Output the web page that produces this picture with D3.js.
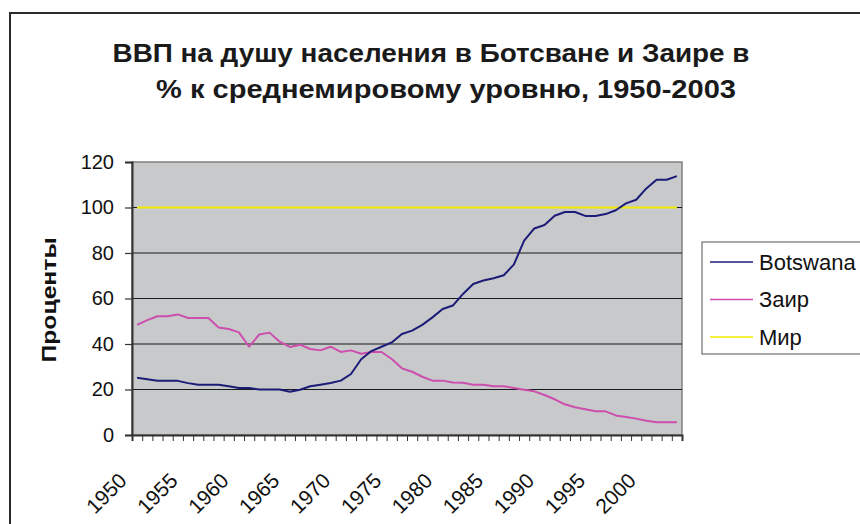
<!DOCTYPE html>
<html>
<head>
<meta charset="utf-8">
<script src="https://cdn.jsdelivr.net/npm/d3@7"></script>
<style>
  body { margin: 0; background: #fff; }
  svg { font-family: "Liberation Sans", Arial, sans-serif; display: block; }
</style>
</head>
<body>
<div id="chart"></div>
<script>
// categories and series
var years = d3.range(1950, 2004);
var tickLabels = ["1950", "1955", "1960", "1965", "1970", "1975", "1980", "1985", "1990", "1995", "2000"];

var botswana = [25.2, 24.5, 23.8, 23.8, 23.8, 22.8, 22.1, 22.1, 22.1, 21.4,
                20.7, 20.7, 20.0, 20.0, 20.0, 19.0, 19.9, 21.4, 22.1, 22.9,
                23.9, 26.8, 33.3, 36.9, 38.8, 40.7, 44.4, 45.9, 48.4, 51.7,
                55.4, 56.9, 62.0, 66.4, 67.9, 68.9, 70.2, 75.0, 85.4, 90.8,
                92.3, 96.4, 98.0, 98.0, 96.3, 96.3, 97.1, 98.8, 101.8, 103.4,
                108.4, 112.2, 112.2, 113.8];

var zaire = [48.4, 50.5, 52.2, 52.2, 53.0, 51.4, 51.4, 51.4, 47.3, 46.6,
             45.1, 38.8, 44.2, 45.0, 41.0, 38.7, 39.7, 37.8, 37.2, 38.8,
             36.5, 37.2, 35.7, 36.5, 36.5, 33.4, 29.3, 27.8, 25.6, 23.9,
             23.9, 23.1, 23.0, 22.1, 22.1, 21.4, 21.4, 20.7, 19.9, 19.2,
             17.6, 15.7, 13.5, 12.2, 11.3, 10.4, 10.4, 8.6, 7.9, 7.2,
             6.3, 5.6, 5.6, 5.6];

var world = [100, 100, 100, 100, 100, 100, 100, 100, 100, 100,
             100, 100, 100, 100, 100, 100, 100, 100, 100, 100,
             100, 100, 100, 100, 100, 100, 100, 100, 100, 100,
             100, 100, 100, 100, 100, 100, 100, 100, 100, 100,
             100, 100, 100, 100, 100, 100, 100, 100, 100, 100,
             100, 100, 100, 100];

var seriesNames = ["Botswana", "Заир", "Мир"];
var seriesColors = ["#1c1c78", "#cc4fae", "#f2ea00"];
var seriesData = [botswana, zaire, world];

var margin = {top: 162, right: 178, bottom: 89, left: 132},
    width = 860 - margin.left - margin.right,
    height = 524 - margin.top - margin.bottom;

var x = d3.scaleBand()
    .domain(years)
    .range([0, width])
    .paddingInner(0);

// boundaries between categories, for the tick marks
var xb = d3.scaleLinear()
    .domain([0, years.length])
    .range([0, width]);

var y = d3.scaleLinear()
    .domain([0, 120])
    .range([height, 0]);

var svg = d3.select("#chart").append("svg")
    .attr("width", 860)
    .attr("height", 524);

// outer chart frame (runs off the right and bottom edge)
svg.append("rect")
    .attr("x", 10)
    .attr("y", 13)
    .attr("width", 900)
    .attr("height", 600)
    .attr("fill", "none")
    .attr("stroke", "#2a2a2a")
    .attr("stroke-width", 2);

// title (text in the original is drawn wide, so stretch it to the same span)
var title = svg.append("text")
    .attr("text-anchor", "middle")
    .style("font-weight", "bold")
    .style("font-size", "25px")
    .attr("fill", "#1a1a1a");
title.append("tspan").attr("x", 431).attr("y", 62)
    .attr("textLength", 637).attr("lengthAdjust", "spacingAndGlyphs")
    .text("ВВП на душу населения в Ботсване и Заире в");
title.append("tspan").attr("x", 446).attr("y", 98)
    .attr("textLength", 580).attr("lengthAdjust", "spacingAndGlyphs")
    .text("% к среднемировому уровню, 1950-2003");

var g = svg.append("g")
    .attr("transform", "translate(" + margin.left + "," + margin.top + ")");

// plot area
g.append("rect")
    .attr("width", width)
    .attr("height", height)
    .attr("fill", "#c8c9cb")
    .attr("stroke", "#808080")
    .attr("stroke-width", 1.5);

// gridlines
g.append("g")
    .selectAll("line")
    .data([20, 40, 60, 80, 100])
  .enter().append("line")
    .attr("x1", 0)
    .attr("x2", width)
    .attr("y1", function(d) { return y(d); })
    .attr("y2", function(d) { return y(d); })
    .attr("stroke", "#1a1a1a")
    .attr("stroke-width", 1.2);

// y axis
var yAxis = d3.axisLeft(y)
    .tickValues([0, 20, 40, 60, 80, 100, 120])
    .tickSize(7)
    .tickPadding(11);

var yg = g.append("g").call(yAxis);
yg.select(".domain").attr("stroke", "#333").attr("stroke-width", 2);
yg.selectAll(".tick line").attr("stroke", "#333").attr("stroke-width", 1.2);
yg.selectAll(".tick text")
    .style("font-size", "20px")
    .style("font-family", "Liberation Sans, Arial, sans-serif")
    .attr("fill", "#111");

// x axis: tick marks between categories
var xAxis = d3.axisBottom(xb)
    .tickValues(d3.range(years.length + 1))
    .tickFormat("")
    .tickSize(6);

var xg = g.append("g")
    .attr("transform", "translate(0," + height + ")")
    .call(xAxis);
xg.select(".domain").attr("stroke", "#333").attr("stroke-width", 2);
xg.selectAll(".tick line").attr("stroke", "#333").attr("stroke-width", 1);

// rotated year labels
g.append("g")
    .selectAll("text")
    .data(tickLabels)
  .enter().append("text")
    .attr("transform", function(d) {
      var cx = x(+d) + x.bandwidth() / 2;
      return "translate(" + (cx - 9) + "," + (height + 47) + ") rotate(-45)";
    })
    .attr("text-anchor", "end")
    .style("font-size", "21px")
    .attr("fill", "#111")
    .text(function(d) { return d; });

// y axis title
svg.append("text")
    .attr("transform", "translate(56,300) rotate(-90)")
    .attr("text-anchor", "middle")
    .attr("textLength", 125)
    .attr("lengthAdjust", "spacingAndGlyphs")
    .style("font-weight", "bold")
    .style("font-size", "21px")
    .attr("fill", "#111")
    .text("Проценты");

// lines
var line = d3.line()
    .x(function(d, i) { return x(years[i]) + x.bandwidth() / 2; })
    .y(function(d) { return y(d); });

// draw world first so the others sit on top
[2, 1, 0].forEach(function(k) {
  g.append("path")
      .datum(seriesData[k])
      .attr("fill", "none")
      .attr("stroke", seriesColors[k])
      .attr("stroke-width", 2)
      .attr("stroke-linejoin", "round")
      .attr("d", line);
});

// legend
var legend = svg.append("g")
    .attr("transform", "translate(702,242)");

legend.append("rect")
    .attr("width", 200)
    .attr("height", 112)
    .attr("fill", "#fff")
    .attr("stroke", "#555")
    .attr("stroke-width", 1);

var items = legend.selectAll(".item")
    .data(seriesNames)
  .enter().append("g")
    .attr("class", "item")
    .attr("transform", function(d, i) { return "translate(0," + (20 + i * 37.5) + ")"; });

items.append("line")
    .attr("x1", 8)
    .attr("x2", 51)
    .attr("stroke", function(d, i) { return seriesColors[i]; })
    .attr("stroke-width", 1.5);

items.append("text")
    .attr("x", 57)
    .attr("dy", "0.35em")
    .style("font-size", "22px")
    .attr("fill", "#111")
    .text(function(d) { return d; });
</script>
</body>
</html>
